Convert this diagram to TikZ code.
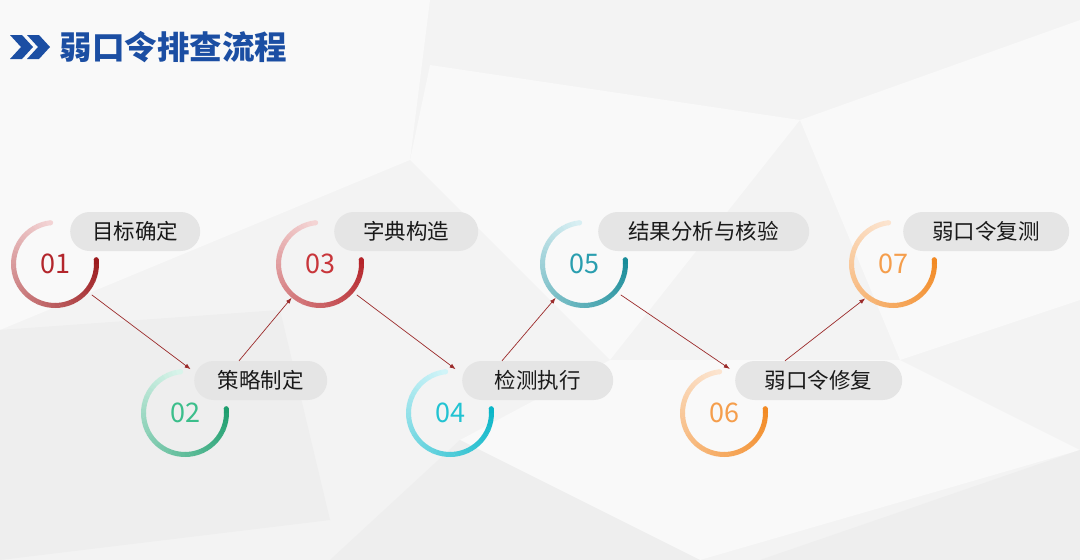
\documentclass[tikz,border=0pt]{standalone}
\usepackage{fontspec}
\usepackage{tikz}
\usetikzlibrary{arrows.meta}
\setmainfont{Noto Sans CJK SC}

\definecolor{bggray}{HTML}{F3F3F3}
\definecolor{facetlight}{HTML}{F9F9F9}
\definecolor{facetdark}{HTML}{EEEEEE}
\definecolor{titleblue}{HTML}{1B4EA3}
\definecolor{pillgray}{HTML}{E5E5E5}
\definecolor{linkred}{HTML}{9B2A2A}
% ring colours: light end, dark end, number
\definecolor{oneL}{HTML}{F3D3D4}   \definecolor{oneD}{HTML}{9C1B1E}   \definecolor{oneN}{HTML}{B3262C}
\definecolor{twoL}{HTML}{D8F4EA}   \definecolor{twoD}{HTML}{1E9E6E}   \definecolor{twoN}{HTML}{3BBE8B}
\definecolor{threeL}{HTML}{F4D4D4} \definecolor{threeD}{HTML}{B5242A} \definecolor{threeN}{HTML}{C8353A}
\definecolor{fourL}{HTML}{D0F4F8}  \definecolor{fourD}{HTML}{0AB6C8}  \definecolor{fourN}{HTML}{22C3D2}
\definecolor{fiveL}{HTML}{D8EFF3}  \definecolor{fiveD}{HTML}{198C99}  \definecolor{fiveN}{HTML}{2A9EAF}
\definecolor{sixL}{HTML}{FCE4CF}   \definecolor{sixD}{HTML}{F28A24}   \definecolor{sixN}{HTML}{F59E4C}

\tikzset{
  pill/.style={fill=pillgray, rounded corners=19.5pt, minimum height=39pt, inner sep=0pt,
    anchor=west, text=black!90, font=\fontsize{21.5}{21.5}\selectfont},
  ring/.style={circle, minimum size=83pt, inner sep=0pt, outer sep=6.5pt,
    font=\fontsize{27}{27}\selectfont},
  link/.style={linkred, line width=0.7pt, -{Latex[length=6pt,width=4.5pt]}},
}

\begin{document}
\begin{tikzpicture}[x=1pt,y=1pt]
    % background facets
    \fill[bggray] (0,0) rectangle (1080,-560);
    \fill[facetlight] (0,0) -- (430,0) -- (410,-160) -- (0,-330) -- cycle;
    \fill[facetlight] (430,-65) -- (800,-120) -- (610,-360) -- (410,-160) -- cycle;
    \fill[facetlight] (800,-120) -- (1080,-20) -- (1080,-300) -- (900,-360) -- cycle;
    \fill[facetlight] (610,-360) -- (900,-360) -- (1080,-450) -- (700,-560) -- (460,-440) -- cycle;
    \fill[facetdark] (0,-330) -- (280,-310) -- (330,-520) -- (0,-560) -- cycle;
    \fill[facetdark] (460,-440) -- (700,-560) -- (330,-560) -- cycle;
    \fill[facetdark] (1080,-450) -- (1080,-560) -- (760,-560) -- cycle;
    \useasboundingbox (0,0) rectangle (1080,-560);

    % title
    \fill[titleblue] (10,-35) -- (22,-35) -- (33,-47) -- (22,-59) -- (10,-59) -- (21,-47) -- cycle;
    \fill[titleblue] (27,-35) -- (39,-35) -- (50,-47) -- (39,-59) -- (27,-59) -- (38,-47) -- cycle;
    \node[anchor=west, text=titleblue, font=\fontsize{32.5}{32.5}\selectfont\bfseries] (title) at (56,-47) {弱口令排查流程};

    % steps: ring with number, then the grey label
    \foreach \n/\x/\y/\lx/\pw/\lc/\dc/\tc/\txt in {
        1/55/-264/70/130/oneL/oneD/oneN/目标确定,
        2/185/-413/194/133/twoL/twoD/twoN/策略制定,
        3/320/-264/334/144/threeL/threeD/threeN/字典构造,
        4/450/-413/462/151/fourL/fourD/fourN/检测执行,
        5/584/-264/598/211/fiveL/fiveD/fiveN/结果分析与核验,
        6/724/-413/735/167/sixL/sixD/sixN/弱口令修复,
        7/893/-264/903/166/sixL/sixD/sixN/弱口令复测}
    {
        \foreach \i in {0,...,44} {
            \pgfmathtruncatemacro\p{100*\i/44}
            \draw[line width=5pt, \dc!\p!\lc] (\x,\y) ++(96+6*\i:41.5)
                arc[start angle=96+6*\i, end angle=102.5+6*\i, radius=41.5];
        }
        \fill[\lc] (\x,\y) ++(96:41.5) circle (2.5);
        \fill[\dc] (\x,\y) ++(6:41.5) circle (2.5);
        \node[ring, text=\tc] (s\n) at (\x,\y) {0\n};
        \node[pill, minimum width=\pw pt] (l\n) at (\lx,\y+32.5) {\txt};
    }

    % connectors
    \draw[link, shorten >=-7pt] (s1.-40) -- (s2.north);
    \draw[link, shorten >=-4pt] ([xshift=45pt]l2.north west) -- (s3.-130);
    \draw[link, shorten >=-7pt] (s3.-40) -- (s4.north);
    \draw[link, shorten >=-4pt] ([xshift=40pt]l4.north west) -- (s5.-130);
    \draw[link, shorten >=-7pt] (s5.-40) -- (s6.north);
    \draw[link, shorten >=-4pt] ([xshift=50pt]l6.north west) -- (s7.-130);
\end{tikzpicture}
\end{document}
